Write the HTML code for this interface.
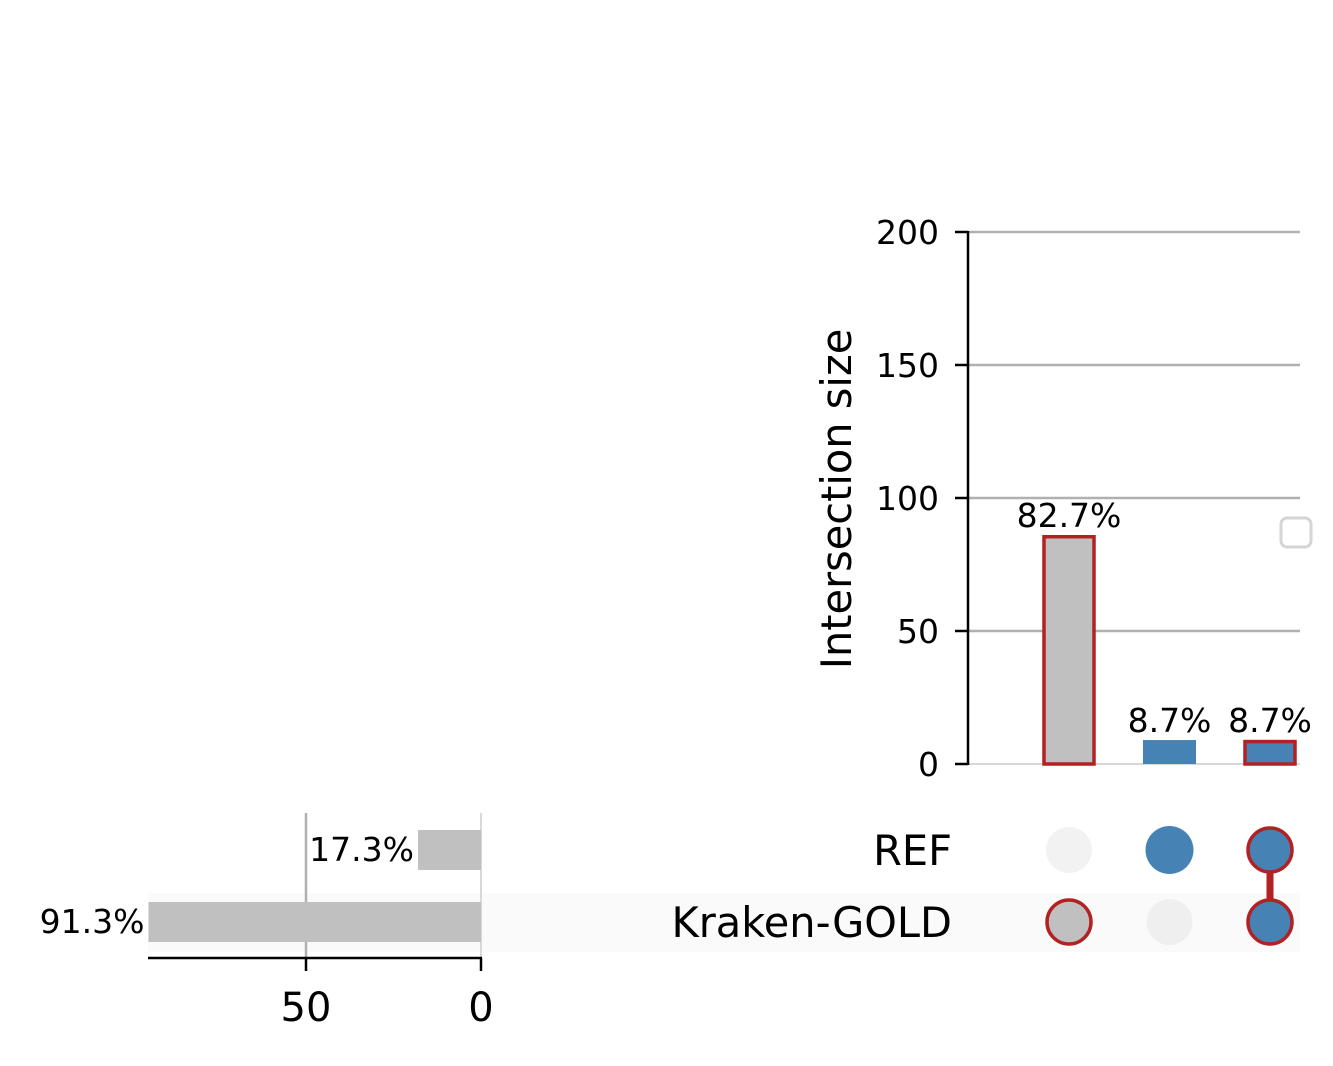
<!DOCTYPE html>
<html><head><meta charset="utf-8"><style>
html,body{margin:0;padding:0;background:#fff;}
svg{display:block;font-family:"DejaVu Sans","Liberation Sans",sans-serif;}
</style></head><body>
<svg id="c" width="1333" height="1066" viewBox="0 0 1333 1066"></svg>
<script>
const intersectionSizes=[86,9,9];
const intersectionLabels=["82.7%","8.7%","8.7%"];
const intersectionHighlighted=[true,false,true];
const intersectionFills=["#c0c0c0","#4682b4","#4682b4"];
const intersectionMembership=[[false,true],[true,false],[true,true]];
const setNames=["REF","Kraken-GOLD"];
const setSizes=[18,95];
const setLabels=["17.3%","91.3%"];
const yTicks=[0,50,100,150,200];
const xTicks=[0,50];

const NS="http://www.w3.org/2000/svg";
const svg=document.getElementById('c');
function mk(tag,attrs,parent){const e=document.createElementNS(NS,tag);for(const k in attrs)e.setAttribute(k,attrs[k]);(parent||svg).appendChild(e);return e;}
const y=v=>764-v*2.66;
const cx=i=>1069+i*100.5;
const rowY=j=>850+j*72;
const sx=v=>481-v*3.5;

let band=mk('rect',{x:148,y:893,width:1152,height:59,fill:'#fafafa'});



yTicks.forEach(t=>{
  if(t>0){let g=mk('line',{x1:968,x2:1300,y1:y(t),y2:y(t),stroke:'#b0b0b0','stroke-width':2.5});
  }
  else{let g=mk('line',{x1:968,x2:1300,y1:y(t),y2:y(t),stroke:'#cccccc','stroke-width':1.5});}
  mk('line',{x1:955,x2:968,y1:y(t),y2:y(t),stroke:'#000','stroke-width':2.5});
  let tx=mk('text',{x:939,y:y(t)+12,'text-anchor':'end','font-size':33});tx.textContent=t;
  
});
let ax=mk('line',{x1:968,x2:968,y1:231,y2:765,stroke:'#000','stroke-width':2.5});

let yt=mk('text',{x:0,y:0,transform:'translate(851,499) rotate(-90)','text-anchor':'middle','font-size':41.5});
yt.textContent='Intersection size';


intersectionSizes.forEach((v,i)=>{
  const w=53;
  let b=mk('rect',{x:cx(i)-w/2,y:y(v),width:w,height:764-y(v),fill:intersectionFills[i]});
  if(intersectionHighlighted[i]){b.setAttribute('stroke','#b22222');b.setAttribute('stroke-width',3.5);
    b.setAttribute('x',cx(i)-w/2+1.5);b.setAttribute('width',w-3);b.setAttribute('y',y(v)+1.5);b.setAttribute('height',764-y(v)-1.5);}
  
  let t=mk('text',{x:cx(i),y:y(v)-8,'text-anchor':'middle','font-size':33});t.textContent=intersectionLabels[i];
  
});

let lg=mk('rect',{x:1281,y:518,width:30,height:29,rx:6,fill:'#fff',stroke:'#d5d5d5','stroke-width':3});


intersectionMembership.forEach((m,i)=>{
  const on=m.map((b,j)=>b?j:-1).filter(j=>j>=0);
  if(on.length>1){let l=mk('line',{x1:cx(i),x2:cx(i),y1:rowY(Math.min(...on)),y2:rowY(Math.max(...on)),stroke:'#b22222','stroke-width':7});
    }
  m.forEach((b,j)=>{
    let c;
    if(b){c=mk('circle',{cx:cx(i),cy:rowY(j),r:intersectionHighlighted[i]?22:24,fill:intersectionFills[i]});
      if(intersectionHighlighted[i]){c.setAttribute('stroke','#b22222');c.setAttribute('stroke-width',3.5);}}
    else c=mk('circle',{cx:cx(i),cy:rowY(j),r:23,fill:j===1?'#efefef':'#f2f2f2'});
    
  });
});

setNames.forEach((n,j)=>{
  let t=mk('text',{x:952,y:rowY(j)+15,'text-anchor':'end','font-size':41.5});t.textContent=n;
  
});
xTicks.forEach(t=>{
  let g=mk('line',{x1:sx(t),x2:sx(t),y1:813,y2:958,stroke:t===0?'#cccccc':'#b0b0b0','stroke-width':t===0?1.5:2.5});
  
});
setSizes.forEach((v,j)=>{
  let b=mk('rect',{x:sx(v),y:rowY(j)-20,width:481-sx(v),height:40,fill:'#c0c0c0'});
  
  let t=mk('text',{x:sx(v)-4,y:rowY(j)+11,'text-anchor':'end','font-size':33});t.textContent=setLabels[j];
  
});
let xa=mk('line',{x1:148,x2:482,y1:958,y2:958,stroke:'#000','stroke-width':2.5});

xTicks.forEach(t=>{
  mk('line',{x1:sx(t),x2:sx(t),y1:958,y2:971,stroke:'#000','stroke-width':2.5});
  let tx=mk('text',{x:sx(t),y:1021,'text-anchor':'middle','font-size':40});tx.textContent=t;
  
});
</script>
</body></html>
